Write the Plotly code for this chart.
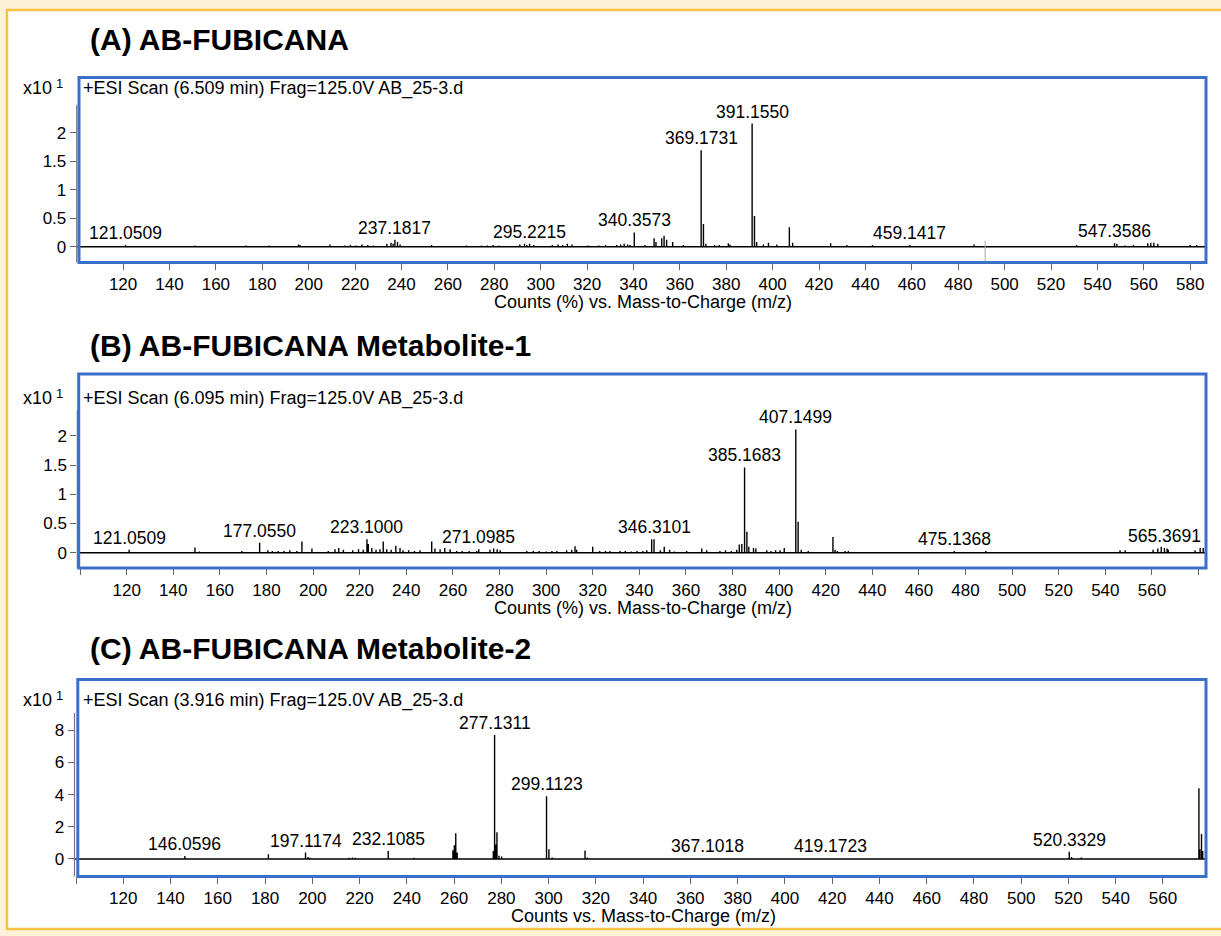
import plotly.graph_objects as go

W, H = 1221, 936
FONT = "Liberation Sans, Arial, Helvetica, sans-serif"
INK = "#000000"

# ---------------- (A) AB-FUBICANA ----------------
a_title = "(A) AB-FUBICANA"
a_scan = "+ESI Scan (6.509 min) Frag=125.0V AB_25-3.d"
a_xlabel = "Counts (%) vs. Mass-to-Charge (m/z)"
a_label_mz = [121.0509, 237.1817, 295.2215, 340.3573, 369.1731, 391.1550, 459.1417, 547.3586]
a_label_int = [0.03, 0.12, 0.05, 0.25, 1.69, 2.16, 0.03, 0.06]
a_peak_mz = [151.0, 173.0, 183.0, 195.6, 196.3, 209.2, 215.5, 218.0, 220.5, 223.0, 225.5, 228.0,
             233.7, 235.5, 236.4, 238.3, 239.4, 253.0, 268.0, 274.5, 277.0, 279.5, 282.0, 291.0,
             293.0, 294.0, 297.0, 305.0, 307.5, 309.5, 311.5, 313.5, 320.5, 325.0, 328.0, 332.8,
             334.5, 336.0, 337.5, 338.5, 345.0, 348.9, 349.7, 352.2, 353.2, 354.3, 356.9, 361.5,
             370.17, 371.2, 375.0, 377.0, 380.9, 381.6, 392.16, 393.1, 396.0, 398.2, 401.8, 407.2,
             408.6, 425.0, 432.0, 443.0, 486.8, 531.0, 548.4, 551.8, 555.5, 561.7, 563.0, 564.3,
             566.0, 580.0, 582.8]
a_peak_int = [0.02, 0.02, 0.02, 0.04, 0.03, 0.04, 0.02, 0.03, 0.02, 0.04, 0.03, 0.02,
              0.05, 0.07, 0.05, 0.08, 0.04, 0.03, 0.02, 0.02, 0.02, 0.03, 0.02, 0.04,
              0.05, 0.03, 0.03, 0.03, 0.04, 0.03, 0.05, 0.04, 0.02, 0.02, 0.03, 0.03,
              0.04, 0.05, 0.04, 0.03, 0.03, 0.15, 0.08, 0.15, 0.19, 0.12, 0.08, 0.03,
              0.40, 0.05, 0.03, 0.03, 0.06, 0.04, 0.54, 0.08, 0.04, 0.07, 0.04, 0.34,
              0.07, 0.06, 0.03, 0.03, 0.04, 0.03, 0.05, 0.02, 0.03, 0.06, 0.07, 0.07,
              0.05, 0.03, 0.03]
a_cursor_mz = 491.6

# ---------------- (B) AB-FUBICANA Metabolite-1 ----------------
b_title = "(B) AB-FUBICANA Metabolite-1"
b_scan = "+ESI Scan (6.095 min) Frag=125.0V AB_25-3.d"
b_xlabel = "Counts (%) vs. Mass-to-Charge (m/z)"
b_label_mz = [121.0509, 177.0550, 223.1000, 271.0985, 346.3101, 385.1683, 407.1499, 475.1368, 565.3691]
b_label_int = [0.05, 0.17, 0.23, 0.06, 0.23, 1.46, 2.11, 0.03, 0.08]
b_peak_mz = [149.3, 151.2, 169.4, 180.6, 182.5, 185.0, 187.5, 190.0, 193.0, 195.2, 199.5, 206.5,
             209.4, 211.0, 213.0, 217.0, 219.5, 221.5, 223.7, 225.2, 227.0, 228.7, 230.1, 231.6,
             233.5, 235.5, 237.3, 238.6, 241.0, 243.5, 245.9, 250.9, 252.3, 254.5, 256.5, 258.8,
             261.6, 264.0, 267.0, 270.2, 275.9, 277.5, 279.0, 280.3, 291.7, 294.5, 297.0, 300.0,
             302.5, 304.6, 308.8, 311.0, 312.4, 313.1, 320.0, 323.0, 325.5, 327.4, 331.7, 334.0,
             336.5, 339.0, 341.5, 343.2, 345.3, 349.0, 350.7, 353.0, 355.0, 360.3, 366.8, 368.9,
             374.6, 377.0, 379.5, 381.8, 382.9, 384.0, 386.17, 387.0, 389.0, 390.0, 394.7, 396.5,
             398.5, 400.4, 402.2, 408.15, 409.5, 412.5, 423.1, 424.0, 425.0, 428.3, 429.7, 488.7,
             546.3, 548.5, 560.5, 562.5, 564.0, 566.5, 567.0, 578.5, 580.7, 582.0]
b_peak_int = [0.09, 0.02, 0.03, 0.04, 0.03, 0.03, 0.03, 0.04, 0.03, 0.19, 0.07, 0.03,
              0.06, 0.08, 0.05, 0.04, 0.06, 0.05, 0.15, 0.08, 0.05, 0.06, 0.19, 0.06,
              0.05, 0.12, 0.08, 0.04, 0.04, 0.03, 0.04, 0.19, 0.07, 0.06, 0.08, 0.06,
              0.03, 0.03, 0.03, 0.03, 0.05, 0.07, 0.06, 0.04, 0.03, 0.03, 0.03, 0.02,
              0.03, 0.03, 0.04, 0.05, 0.11, 0.05, 0.10, 0.03, 0.03, 0.03, 0.03, 0.03,
              0.02, 0.03, 0.03, 0.04, 0.23, 0.04, 0.10, 0.05, 0.02, 0.03, 0.07, 0.04,
              0.03, 0.04, 0.03, 0.05, 0.14, 0.15, 0.36, 0.10, 0.08, 0.07, 0.04, 0.03,
              0.04, 0.04, 0.08, 0.53, 0.05, 0.03, 0.27, 0.05, 0.03, 0.03, 0.03, 0.03,
              0.04, 0.04, 0.05, 0.07, 0.10, 0.07, 0.05, 0.04, 0.08, 0.08]

# ---------------- (C) AB-FUBICANA Metabolite-2 ----------------
c_title = "(C) AB-FUBICANA Metabolite-2"
c_scan = "+ESI Scan (3.916 min) Frag=125.0V AB_25-3.d"
c_xlabel = "Counts vs. Mass-to-Charge (m/z)"
c_label_mz = [146.0596, 197.1174, 232.1085, 277.1311, 299.1123, 367.1018, 419.1723, 520.3329]
c_label_int = [0.19, 0.40, 0.50, 7.70, 3.90, 0.05, 0.05, 0.45]
c_peak_mz = [181.4, 198.2, 199.0, 215.5, 217.0, 218.2, 225.0, 243.0, 259.5, 260.1, 260.7, 261.3,
             276.6, 277.6, 278.13, 279.0, 280.1, 300.12, 301.5, 315.4, 316.4, 521.3, 525.4,
             575.2, 575.6, 576.3, 576.8]
c_peak_int = [0.30, 0.12, 0.08, 0.08, 0.10, 0.08, 0.05, 0.08, 0.55, 0.85, 1.60, 0.40,
              0.50, 0.90, 1.66, 0.20, 0.15, 0.60, 0.10, 0.52, 0.10, 0.12, 0.10,
              4.40, 0.60, 1.55, 0.50]

# y tick sets and intensity scale factor
ab_yticks = [0, 0.5, 1, 1.5, 2]
ab_yticktext = ["0", "0.5", "1", "1.5", "2"]
c_yticks = [0, 2, 4, 6, 8]
c_yticktext = ["0", "2", "4", "6", "8"]
scale_base = "x10"
scale_exp = "1"


def px(x):
    return x / W


def py(y):
    return 1 - y / H


def sticks(mz_list, int_list, lo, hi):
    pts = sorted(zip(mz_list, int_list))
    xs, ys = [lo], [0]
    for m, h in pts:
        xs += [m, m, m]
        ys += [0, h, 0]
    xs.append(hi)
    ys.append(0)
    return xs, ys


# panel geometry (pixels) and axis ranges
panels = [
    dict(title=a_title, scan=a_scan, xlabel=a_xlabel,
         lab_mz=a_label_mz, lab_int=a_label_int, mz=a_peak_mz, inten=a_peak_int,
         axis_x=76.7, right=1206, top=77, bottom=262.7,
         xr=[100.0, 586.8], yr=[-0.281, 2.977], yline_top=2.49,
         xt=list(range(120, 581, 20)), xt_minor=[],
         yt=ab_yticks, ytt=ab_yticktext,
         box=(79, 77.5, 1206, 262.5), title_y=40, scan_y=88, xlabel_y=302),
    dict(title=b_title, scan=b_scan, xlabel=b_xlabel,
         lab_mz=b_label_mz, lab_int=b_label_int, mz=b_peak_mz, inten=b_peak_int,
         axis_x=77.3, right=1206, top=373.3, bottom=568.3,
         xr=[98.8, 583.2], yr=[-0.267, 3.07], yline_top=2.44,
         xt=list(range(120, 561, 20)), xt_minor=[100, 580],
         yt=ab_yticks, ytt=ab_yticktext,
         box=(78.7, 374, 1206, 568), title_y=345, scan_y=398, xlabel_y=608),
    dict(title=c_title, scan=c_scan, xlabel=c_xlabel,
         lab_mz=c_label_mz, lab_int=c_label_int, mz=c_peak_mz, inten=c_peak_int,
         axis_x=74.5, right=1206, top=679.3, bottom=876.7,
         xr=[99.35, 578.2], yr=[-1.10, 11.16], yline_top=9.07,
         xt=list(range(120, 561, 20)), xt_minor=[100],
         yt=c_yticks, ytt=c_yticktext,
         box=(77.8, 679.5, 1206, 876.5), title_y=648, scan_y=700, xlabel_y=916),
]

fig = go.Figure()
shapes = []
annotations = []

# white sheet with gold frame
shapes.append(dict(type="rect", xref="paper", yref="paper", layer="below",
                   x0=px(7), x1=px(1232), y0=py(929), y1=py(10),
                   fillcolor="white", line=dict(color="#F5C243", width=2.5)))

for i, p in enumerate(panels, start=1):
    xa = "x" if i == 1 else f"x{i}"
    ya = "y" if i == 1 else f"y{i}"
    xs, ys = sticks(p["lab_mz"] + p["mz"], p["lab_int"] + p["inten"], p["xr"][0], p["xr"][1])
    fig.add_trace(go.Scatter(x=xs, y=ys, mode="lines", xaxis=xa, yaxis=ya,
                             line=dict(color="black", width=1.4), hoverinfo="skip",
                             showlegend=False))

    key_x = "xaxis" if i == 1 else f"xaxis{i}"
    key_y = "yaxis" if i == 1 else f"yaxis{i}"
    xaxis = dict(domain=[px(p["axis_x"]), px(p["right"])], range=p["xr"], anchor=ya,
                 showgrid=False, zeroline=False, showline=False,
                 tickmode="array", tickvals=p["xt"], ticktext=[str(v) for v in p["xt"]],
                 ticks="outside", ticklen=6, tickwidth=1, tickcolor="#666666",
                 tickfont=dict(family=FONT, size=17, color=INK))
    if p["xt_minor"]:
        xaxis["minor"] = dict(tickmode="array", tickvals=p["xt_minor"], ticks="outside",
                              ticklen=6, tickwidth=1, tickcolor="#666666", showgrid=False)
    fig.update_layout({
        key_x: xaxis,
        key_y: dict(domain=[py(p["bottom"]), py(p["top"])], range=p["yr"], anchor=xa,
                    showgrid=False, zeroline=False, showline=False,
                    tickmode="array", tickvals=p["yt"], ticktext=p["ytt"],
                    ticks="outside", ticklen=6, tickwidth=1, tickcolor="#666666",
                    tickfont=dict(family=FONT, size=17, color=INK)),
    })

    # y-axis line
    shapes.append(dict(type="line", xref="paper", yref=ya,
                       x0=px(p["axis_x"]), x1=px(p["axis_x"]),
                       y0=p["yr"][0], y1=p["yline_top"],
                       line=dict(color="#777777", width=1.2)))
    # highlight frame
    bx0, by0, bx1, by1 = p["box"]
    shapes.append(dict(type="rect", xref="paper", yref="paper",
                       x0=px(bx0), x1=px(bx1), y0=py(by1), y1=py(by0),
                       line=dict(color="#3A70C8", width=3), fillcolor="rgba(0,0,0,0)"))

    # panel title
    annotations.append(dict(text=p["title"], xref="paper", yref="paper",
                            x=px(88), y=py(p["title_y"]), xanchor="left", yanchor="middle",
                            showarrow=False,
                            font=dict(family=FONT, size=30, color=INK, weight="bold")))
    # intensity scale factor: base and raised exponent
    annotations.append(dict(text=scale_base, xref="paper", yref="paper",
                            x=px(54), y=py(p["scan_y"]), xanchor="right", yanchor="middle",
                            showarrow=False, font=dict(family=FONT, size=18, color=INK)))
    annotations.append(dict(text=scale_exp, xref="paper", yref="paper",
                            x=px(60), y=py(p["scan_y"] - 5), xanchor="center", yanchor="middle",
                            showarrow=False, font=dict(family=FONT, size=13, color=INK)))
    # scan description
    annotations.append(dict(text=p["scan"], xref="paper", yref="paper",
                            x=px(81), y=py(p["scan_y"]), xanchor="left", yanchor="middle",
                            showarrow=False, font=dict(family=FONT, size=18, color=INK)))
    # x-axis title
    annotations.append(dict(text=p["xlabel"], xref="paper", yref="paper",
                            x=px(643), y=py(p["xlabel_y"]), xanchor="center", yanchor="middle",
                            showarrow=False, font=dict(family=FONT, size=18, color=INK)))
    # peak labels
    for m, h in zip(p["lab_mz"], p["lab_int"]):
        annotations.append(dict(text=f"{m:.4f}", xref=xa, yref=ya, x=m, y=h,
                                xanchor="center", yanchor="bottom", showarrow=False,
                                font=dict(family=FONT, size=17.5, color=INK)))

# cursor marker in panel A
shapes.append(dict(type="line", xref="x", yref="y", x0=a_cursor_mz, x1=a_cursor_mz,
                   y0=0.105, y1=-0.26, line=dict(color="#AAAAAA", width=1)))

fig.update_layout(width=W, height=H, margin=dict(l=0, r=0, t=0, b=0),
                  paper_bgcolor="#FDF1D8", plot_bgcolor="rgba(0,0,0,0)",
                  showlegend=False, shapes=shapes, annotations=annotations)

fig.write_html("out.html")
